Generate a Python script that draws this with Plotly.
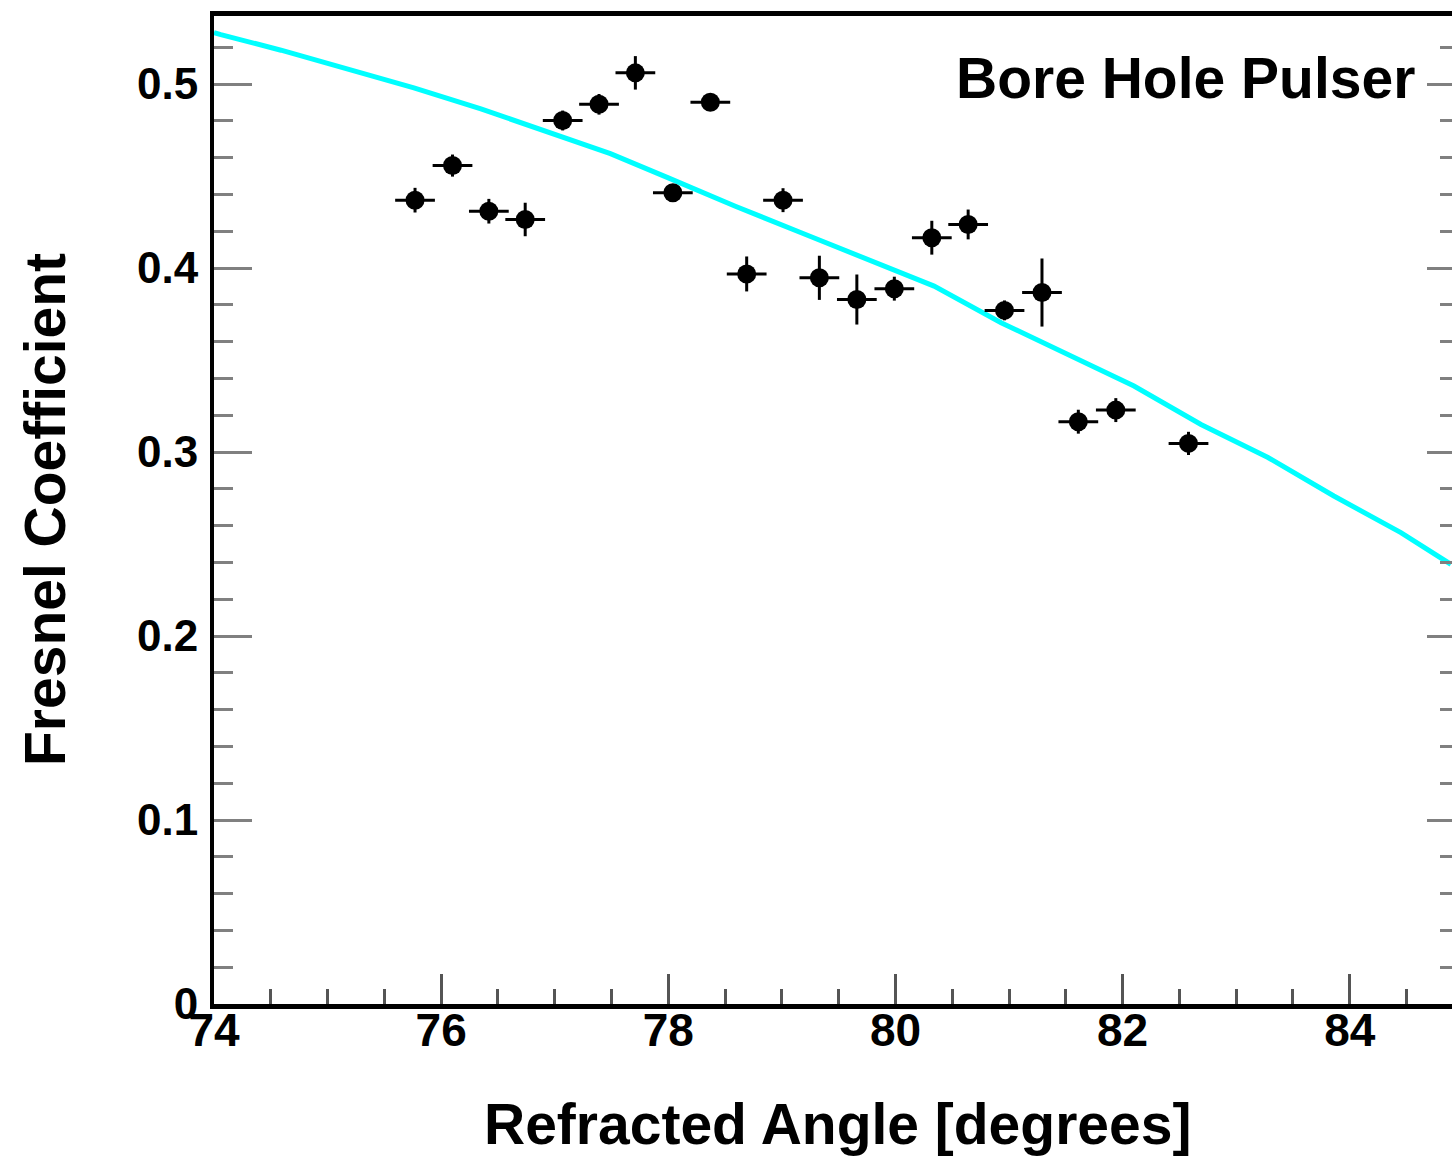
import plotly.graph_objects as go

# Measured points (refracted angle in degrees, Fresnel coefficient)
angle = [75.77, 76.10, 76.42, 76.74, 77.07, 77.39, 77.71, 78.04, 78.37, 78.69, 79.01,
         79.33, 79.66, 79.99, 80.32, 80.64, 80.96, 81.29, 81.61, 81.94, 82.58]
fresnel = [0.4369, 0.4557, 0.4309, 0.4264, 0.4802, 0.4890, 0.5061, 0.4409, 0.4901, 0.3968, 0.4369,
           0.3947, 0.3829, 0.3888, 0.4165, 0.4237, 0.3770, 0.3867, 0.3165, 0.3228, 0.3047]
angle_err = [0.175] * 21
fresnel_err = [0.0067, 0.0060, 0.0067, 0.0091, 0.0054, 0.0056, 0.0091, 0.0045, 0.0047, 0.0095, 0.0065,
               0.0120, 0.0136, 0.0065, 0.0092, 0.0081, 0.0054, 0.0185, 0.0065, 0.0065, 0.0063]

# Theory curve
fit_angle = [74.0, 74.06, 74.59, 75.17, 75.76, 76.35, 76.93, 77.49, 78.00, 78.59, 79.17,
             79.76, 80.34, 80.93, 81.52, 82.10, 82.69, 83.28, 83.86, 84.45, 84.89]
fit_fresnel = [0.528, 0.5269, 0.5184, 0.5083, 0.4979, 0.4865, 0.4738, 0.4622, 0.4490, 0.4336, 0.4192,
               0.4047, 0.3902, 0.3703, 0.3531, 0.3359, 0.3150, 0.2970, 0.2761, 0.2562, 0.2390]

x_ticks = [74, 76, 78, 80, 82, 84]
y_ticks = [0, 0.1, 0.2, 0.3, 0.4, 0.5]

FONT = "Liberation Sans, Arial, Helvetica, sans-serif"

fig = go.Figure()
fig.add_trace(go.Scatter(
    x=fit_angle, y=fit_fresnel, mode="lines",
    line=dict(color="#00FFFF", width=5), hoverinfo="skip"))
fig.add_trace(go.Scatter(
    x=angle, y=fresnel, mode="markers",
    marker=dict(symbol="circle", size=19, color="black"),
    error_x=dict(type="data", array=angle_err, color="black", thickness=3, width=0),
    error_y=dict(type="data", array=fresnel_err, color="black", thickness=3, width=0)))
fig.add_trace(go.Scatter(x=[], y=[], yaxis="y2", showlegend=False))

fig.update_layout(
    width=1452, height=1156,
    margin=dict(l=214, r=0, t=16, b=152, pad=0),
    paper_bgcolor="white", plot_bgcolor="white",
    showlegend=False,
    font=dict(family=FONT, color="black"),
    xaxis=dict(
        range=[74, 84.9], tickmode="array", tickvals=x_ticks,
        ticktext=[str(v) for v in x_ticks],
        ticks="inside", ticklen=30, tickwidth=3, tickcolor="#555555",
        minor=dict(dtick=0.5, tick0=74, ticks="inside", ticklen=15, tickwidth=3, tickcolor="#555555"),
        showline=True, linecolor="black", linewidth=5, mirror=True,
        showgrid=False, zeroline=False,
        tickfont=dict(family=FONT, size=46, weight="bold", color="black"),
        ticklabelstandoff=-18,
    ),
    yaxis=dict(
        range=[0, 0.537], tickmode="array", tickvals=y_ticks,
        ticktext=["0", "0.1", "0.2", "0.3", "0.4", "0.5"],
        ticks="inside", ticklen=38, tickwidth=3, tickcolor="#808080",
        minor=dict(dtick=0.02, tick0=0, ticks="inside", ticklen=19, tickwidth=3, tickcolor="#808080"),
        showline=True, linecolor="black", linewidth=4, mirror=False,
        showgrid=False, zeroline=False,
        tickfont=dict(family=FONT, size=44, weight="bold", color="black"),
        ticklabelstandoff=3,
    ),
    yaxis2=dict(
        overlaying="y", side="right", matches="y", range=[0, 0.537],
        tickmode="array", tickvals=y_ticks, showticklabels=False,
        ticks="inside", ticklen=25, tickwidth=3, tickcolor="#808080",
        minor=dict(dtick=0.02, tick0=0, ticks="inside", ticklen=12, tickwidth=3, tickcolor="#808080"),
        showline=False, showgrid=False, zeroline=False,
    ),
    annotations=[
        dict(text="Refracted Angle [degrees]", xref="paper", yref="paper",
             x=0.504, y=-0.1215, xanchor="center", yanchor="middle", showarrow=False,
             font=dict(family=FONT, size=57, weight="bold", color="black")),
        dict(text="Fresnel Coefficient", xref="paper", yref="paper",
             x=-0.1365, y=0.5, xanchor="center", yanchor="middle", showarrow=False, textangle=-90,
             font=dict(family=FONT, size=57, weight="bold", color="black")),
        dict(text="Bore Hole Pulser", xref="paper", yref="paper",
             x=0.9717, y=0.937, xanchor="right", yanchor="middle", showarrow=False,
             font=dict(family=FONT, size=57, weight="bold", color="black")),
    ],
)

fig.write_html("out.html")
